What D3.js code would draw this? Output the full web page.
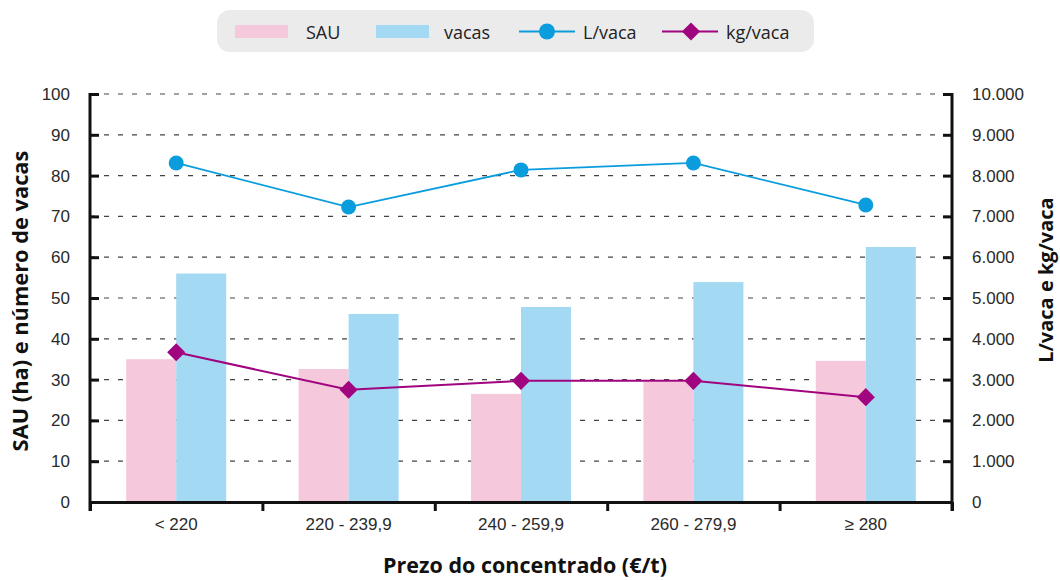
<!DOCTYPE html>
<html>
<head>
<meta charset="utf-8">
<script src="https://cdn.jsdelivr.net/npm/d3@7"></script>
<style>
  body { margin: 0; background: #fff; }
  svg { font-family: 'Open Sans', sans-serif; }
  .axis path, .axis line { stroke: #111; stroke-width: 3; }
  .axis text { fill: #2a2a2a; font-size: 17px; }
  .grid line { stroke: #444; stroke-width: 1.2; stroke-dasharray: 5,9; }
</style>
</head>
<body>
<div id="chart"></div>
<script>
// Chart data.
var categories = ['< 220', '220 - 239,9', '240 - 259,9', '260 - 279,9', '\u2265 280'];
var sau = [35, 32.6, 26.5, 29.5, 34.6];
var vacas = [56, 46.1, 47.8, 53.9, 62.5];
var litrosVaca = [8310, 7230, 8140, 8310, 7280];
var kgVaca = [3670, 2750, 2970, 2970, 2570];
var leftTicks = [0, 10, 20, 30, 40, 50, 60, 70, 80, 90, 100];
var rightTicks = [0, 1000, 2000, 3000, 4000, 5000, 6000, 7000, 8000, 9000, 10000];
var rightTickLabels = ['0', '1.000', '2.000', '3.000', '4.000', '5.000',
  '6.000', '7.000', '8.000', '9.000', '10.000'];

var colors = {
  sau: '#f5c8dc',
  vacas: '#a3d9f2',
  litros: '#0a9ddd',
  kg: '#a0057f'
};

var frame = { width: 1060, height: 580 };
var plot = { left: 90, right: 952, top: 94, bottom: 502 };

var svg = d3.select('#chart').append('svg')
  .attr('width', frame.width)
  .attr('height', frame.height);

var x = d3.scaleBand()
  .domain(categories)
  .range([plot.left, plot.right]);

var xEdges = d3.scaleLinear()
  .domain([0, categories.length])
  .range([plot.left, plot.right]);

var yLeft = d3.scaleLinear()
  .domain([0, 100])
  .range([plot.bottom, plot.top]);

var yRight = d3.scaleLinear()
  .domain([0, 10000])
  .range([plot.bottom, plot.top]);

var barWidth = 50;

// dashed grid lines (behind the bars)
svg.append('g')
  .attr('class', 'grid')
  .selectAll('line')
  .data(leftTicks.slice(1))
  .enter()
  .append('line')
  .attr('x1', plot.left)
  .attr('x2', plot.right)
  .attr('y1', function(d) { return yLeft(d); })
  .attr('y2', function(d) { return yLeft(d); });

// bars
var center = function(c) { return x(c) + x.bandwidth() / 2; };

svg.append('g').selectAll('rect')
  .data(categories)
  .enter()
  .append('rect')
  .attr('x', function(c) { return center(c) - barWidth; })
  .attr('y', function(c, i) { return yLeft(sau[i]); })
  .attr('width', barWidth)
  .attr('height', function(c, i) { return yLeft(0) - yLeft(sau[i]); })
  .attr('fill', colors.sau);

svg.append('g').selectAll('rect')
  .data(categories)
  .enter()
  .append('rect')
  .attr('x', function(c) { return center(c); })
  .attr('y', function(c, i) { return yLeft(vacas[i]); })
  .attr('width', barWidth)
  .attr('height', function(c, i) { return yLeft(0) - yLeft(vacas[i]); })
  .attr('fill', colors.vacas);

// lines
var line = d3.line()
  .x(function(d, i) { return center(categories[i]); })
  .y(function(d) { return yRight(d); });

svg.append('path')
  .attr('d', line(litrosVaca))
  .attr('fill', 'none')
  .attr('stroke', colors.litros)
  .attr('stroke-width', 1.8);

svg.append('g').selectAll('circle')
  .data(litrosVaca)
  .enter()
  .append('circle')
  .attr('cx', function(d, i) { return center(categories[i]); })
  .attr('cy', function(d) { return yRight(d); })
  .attr('r', 7.5)
  .attr('fill', colors.litros);

svg.append('path')
  .attr('d', line(kgVaca))
  .attr('fill', 'none')
  .attr('stroke', colors.kg)
  .attr('stroke-width', 2);

var diamond = d3.symbol().type(d3.symbolDiamond2).size(210);

svg.append('g').selectAll('path')
  .data(kgVaca)
  .enter()
  .append('path')
  .attr('d', diamond)
  .attr('transform', function(d, i) {
    return 'translate(' + center(categories[i]) + ',' + yRight(d) + ')';
  })
  .attr('fill', colors.kg);

// axes
var leftAxis = d3.axisLeft(yLeft)
  .tickValues(leftTicks)
  .tickSizeInner(-9)
  .tickSizeOuter(0)
  .tickPadding(20);

svg.append('g')
  .attr('class', 'axis')
  .attr('transform', 'translate(' + plot.left + ',0)')
  .call(leftAxis)
  .call(function(g) { g.select('.domain').attr('d', 'M0,' + (plot.top - 1) + 'V' + (plot.bottom + 9)); });

var rightAxis = d3.axisRight(yRight)
  .tickValues(rightTicks)
  .tickFormat(function(d, i) { return rightTickLabels[i]; })
  .tickSizeInner(-9)
  .tickSizeOuter(0)
  .tickPadding(20);

svg.append('g')
  .attr('class', 'axis')
  .attr('transform', 'translate(' + plot.right + ',0)')
  .call(rightAxis)
  .call(function(g) { g.select('.domain').attr('d', 'M0,' + (plot.top - 1) + 'V' + (plot.bottom + 9)); });

var edgeAxis = d3.axisBottom(xEdges)
  .ticks(categories.length)
  .tickFormat('')
  .tickSizeInner(9)
  .tickSizeOuter(0);

svg.append('g')
  .attr('class', 'axis')
  .attr('transform', 'translate(0,' + plot.bottom + ')')
  .call(edgeAxis);

var labelAxis = d3.axisBottom(x)
  .tickSize(0)
  .tickPadding(16);

svg.append('g')
  .attr('class', 'axis')
  .attr('transform', 'translate(0,' + plot.bottom + ')')
  .call(labelAxis)
  .call(function(g) { g.select('.domain').remove(); });

// axis titles
svg.append('text')
  .attr('x', 525)
  .attr('y', 573)
  .attr('text-anchor', 'middle')
  .style('font-size', '21.5px')
  .style('font-weight', 'bold')
  .attr('fill', '#111')
  .text('Prezo do concentrado (\u20ac/t)');

svg.append('text')
  .attr('transform', 'translate(28,301) rotate(-90)')
  .attr('text-anchor', 'middle')
  .style('font-size', '21.8px')
  .style('font-weight', 'bold')
  .attr('fill', '#111')
  .text('SAU (ha) e n\u00famero de vacas');

svg.append('text')
  .attr('transform', 'translate(1053,280) rotate(-90)')
  .attr('text-anchor', 'middle')
  .style('font-size', '20px')
  .style('font-weight', 'bold')
  .attr('fill', '#111')
  .text('L/vaca e kg/vaca');

// legend
var legend = svg.append('g');

legend.append('rect')
  .attr('x', 217)
  .attr('y', 10)
  .attr('width', 597)
  .attr('height', 42)
  .attr('rx', 13)
  .attr('fill', '#ebebeb');

var legendItems = [
  { label: 'SAU', type: 'bar', color: colors.sau, x: 235, tx: 306 },
  { label: 'vacas', type: 'bar', color: colors.vacas, x: 376, tx: 444 },
  { label: 'L/vaca', type: 'circle', color: colors.litros, x: 519, tx: 583 },
  { label: 'kg/vaca', type: 'diamond', color: colors.kg, x: 662, tx: 726 }
];

legendItems.forEach(function(item) {
  if (item.type === 'bar') {
    legend.append('rect')
      .attr('x', item.x)
      .attr('y', 25)
      .attr('width', 53)
      .attr('height', 13)
      .attr('fill', item.color);
  } else {
    legend.append('line')
      .attr('x1', item.x)
      .attr('x2', item.x + 56)
      .attr('y1', 31.5)
      .attr('y2', 31.5)
      .attr('stroke', item.color)
      .attr('stroke-width', 2);
    if (item.type === 'circle') {
      legend.append('circle')
        .attr('cx', item.x + 28)
        .attr('cy', 31.5)
        .attr('r', 8)
        .attr('fill', item.color);
    } else {
      legend.append('path')
        .attr('d', diamond)
        .attr('transform', 'translate(' + (item.x + 29) + ',31.5)')
        .attr('fill', item.color);
    }
  }
  legend.append('text')
    .attr('x', item.tx)
    .attr('y', 39)
    .style('font-size', '18px')
    .attr('fill', '#222')
    .text(item.label);
});
</script>
</body>
</html>
